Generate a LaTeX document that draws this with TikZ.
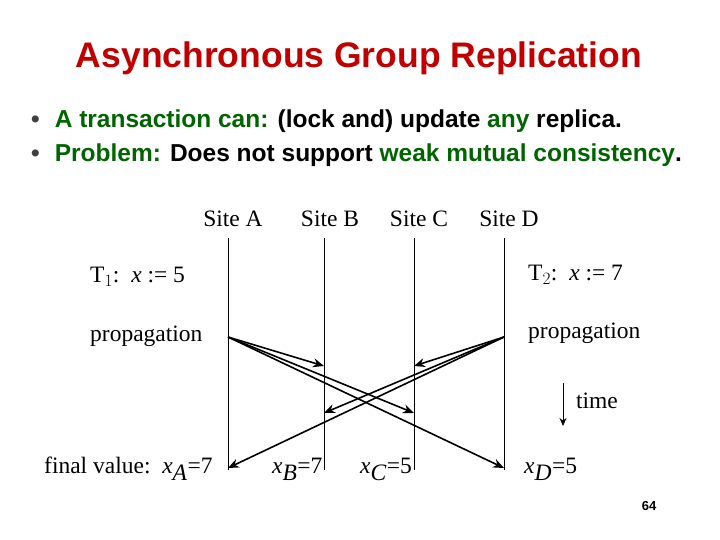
\documentclass[tikz,border=0pt]{standalone}
\usepackage{fontspec}
\setmainfont{Liberation Serif}
\setsansfont{Liberation Sans}
\usetikzlibrary{arrows.meta}
\begin{document}
\definecolor{tred}{RGB}{192,0,0}
\definecolor{tgreen}{RGB}{0,100,0}
\begin{tikzpicture}[x=1pt,y=-1pt,
  lbl/.style={font=\fontsize{23.5}{26}\selectfont, inner sep=0pt},
  site/.style={draw, line width=0.9pt},
  msg/.style={line width=1.6pt, -{Stealth[length=11pt,width=9pt]}}]
\useasboundingbox (0,0) rectangle (720,540);
\node[font=\sffamily\bfseries\fontsize{35.5}{40}\selectfont, text=tred] (title) at (359,58) {Asynchronous Group Replication};
\node[anchor=west, font=\sffamily\bfseries\fontsize{24.5}{28}\selectfont, inner sep=0pt] (b1) at (31,121) {\textcolor{black!75}{•}\hspace{15pt}\textcolor{tgreen}{A transaction can:} (lock and) update \textcolor{tgreen}{any} replica.};
\node[anchor=west, font=\sffamily\bfseries\fontsize{24.5}{28}\selectfont, inner sep=0pt] (b2) at (31,155) {\textcolor{black!75}{•}\hspace{15pt}\textcolor{tgreen}{Problem:} Does not support \textcolor{tgreen}{weak mutual consistency}.};
\node[lbl] (sa) at (233,219) {Site A};
\node[lbl] (sb) at (330,219) {Site B};
\node[lbl] (sc) at (419,219) {Site C};
\node[lbl] (sd) at (509,219) {Site D};
\coordinate (at) at (228,238); \coordinate (ab) at (228,470);
\coordinate (bt) at (324,238); \coordinate (bb) at (324,470);
\coordinate (ct) at (414,238); \coordinate (cb) at (414,470);
\coordinate (dt) at (504,238); \coordinate (db) at (504,470);
\draw[site] (at) -- (ab); \draw[site] (bt) -- (bb);
\draw[site] (ct) -- (cb); \draw[site] (dt) -- (db);
\node[lbl, anchor=west] (t1) at (90,277) {T$_1$:\ \ \textit{x} := 5};
\node[lbl, anchor=west] (t2) at (528,275) {T$_2$:\ \ \textit{x} := 7};
\node[lbl, anchor=west] (p1) at (90,336) {propagation};
\node[lbl, anchor=west] (p2) at (528,333) {propagation};
\coordinate (a0) at (228,337); \coordinate (d0) at (504,337);
\coordinate (b1e) at (324,366); \coordinate (c1e) at (414,413); \coordinate (d1e) at (504,468);
\coordinate (c2e) at (414,366); \coordinate (b2e) at (324,413); \coordinate (a2e) at (228,468);
\draw[msg] (a0) -- (b1e); \draw[msg] (a0) -- (c1e); \draw[msg] (a0) -- (d1e);
\draw[msg] (d0) -- (c2e); \draw[msg] (d0) -- (b2e); \draw[msg] (d0) -- (a2e);
\coordinate (tt) at (563,383); \coordinate (tb) at (563,426);
\draw[line width=1pt, -{Stealth[length=8pt,width=7pt]}] (tt) -- (tb);
\node[lbl] (time) at (597,401) {time};
\node[lbl, anchor=west] (fv) at (44,469) {final value:\ \ \textit{x}$_{\textit{A}}$=7};
\node[lbl, anchor=west] (xb) at (272,469) {\textit{x}$_{\textit{B}}$=7};
\node[lbl, anchor=west] (xc) at (360,469) {\textit{x}$_{\textit{C}}$=5};
\node[lbl, anchor=west] (xd) at (524,469) {\textit{x}$_{\textit{D}}$=5};
\node[font=\sffamily\bfseries\fontsize{13}{15}\selectfont] (pg) at (649,506) {64};
\end{tikzpicture}
\end{document}
